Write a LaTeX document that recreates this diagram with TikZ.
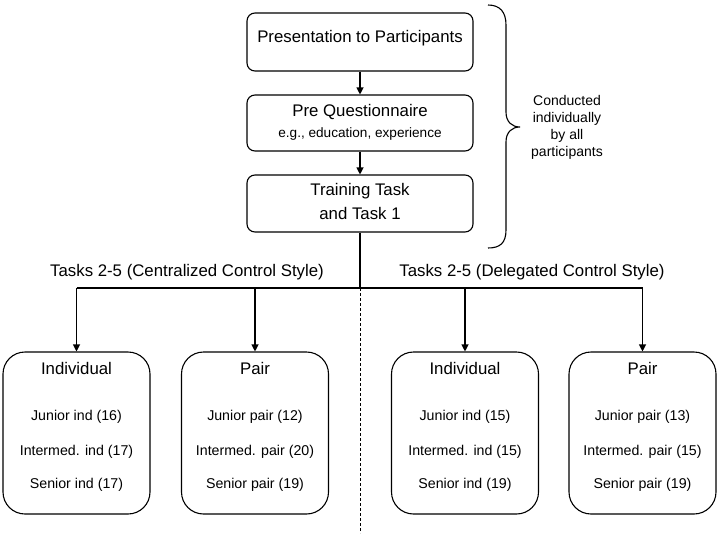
\documentclass[tikz,border=0pt]{standalone}
\usepackage{fontspec}
\setmainfont{Liberation Sans}
\usetikzlibrary{arrows.meta}
\begin{document}
\begin{tikzpicture}[x=1pt,y=-1pt,
  topbox/.style={draw, line width=1.1pt, rounded corners=8pt, minimum width=226pt, inner sep=0pt},
  botbox/.style={draw, line width=1.1pt, rounded corners=22pt, minimum width=147pt, minimum height=162pt, inner sep=0pt},
  big/.style={font=\fontsize{16.8}{19}\selectfont, inner sep=0pt},
  small/.style={font=\fontsize{13.6}{16}\selectfont, inner sep=0pt},
  item/.style={font=\fontsize{14.2}{16}\selectfont, inner sep=0pt},
  conn/.style={line width=1.1pt},
  arr/.style={line width=1.1pt, -{Triangle[length=7pt,width=7pt]}}]
\useasboundingbox (0,0) rectangle (720,536);
% top boxes
\node[topbox, minimum height=58pt] (b1) at (360,42) {};
\node[big] (t1) at (360,38) {Presentation to Participants};
\node[topbox, minimum height=56pt] (b2) at (360,123) {};
\node[big] (t2a) at (360,112) {Pre Questionnaire};
\node[small] (t2b) at (360,134) {e.g., education, experience};
\node[topbox, minimum height=57pt] (b3) at (360,203.5) {};
\node[big] (t3a) at (360,191) {Training Task};
\node[big] (t3b) at (360,213) {and Task 1};
\draw[arr] (b1) -- (b2);
\draw[arr] (b2) -- (b3);
% brace
\draw[line width=1.1pt] (488,5) .. controls (500,5) and (506,12) .. (506,25) -- (506,112)
  .. controls (506,122) and (512,127) .. (520,127)
  .. controls (512,127) and (506,132) .. (506,142) -- (506,230)
  .. controls (506,243) and (500,248) .. (488,248);
\node[item, align=center, font=\fontsize{14}{17}\selectfont] (brace) at (567,127.5) {Conducted\\individually\\by all\\participants};
% junction
\coordinate (j) at (360,288);
\coordinate (cL) at (76.5,288);
\coordinate (cL2) at (255,288);
\coordinate (cR1) at (465,288);
\coordinate (cR) at (642.5,288);
\coordinate (dend) at (360,533);
\draw[conn] (b3) -- (j);
\draw[conn] (cL) -- (cR);
\draw[conn, dash pattern=on 3pt off 2pt, line width=0.9pt] (j) -- (dend);
\node[big] (lt) at (187,272) {Tasks 2-5 (Centralized Control Style)};
\node[big] (rt) at (532,272) {Tasks 2-5 (Delegated Control Style)};
% bottom boxes
\node[botbox] (L1) at (76.5,433) {};
\node[botbox] (L2) at (255,433) {};
\node[botbox] (R1) at (465,433) {};
\node[botbox] (R2) at (642.5,433) {};
\draw[arr] (cL) -- (L1);
\draw[arr] (cL2) -- (L2);
\draw[arr] (cR1) -- (R1);
\draw[arr] (cR) -- (R2);
% texts
\node[big] (L1t) at (76.5,368) {Individual};
\node[item] (L1a) at (76.5,417) {Junior ind (16)};
\node[item] (L1b) at (76.5,452) {Intermed. ind (17)};
\node[item] (L1c) at (76.5,485) {Senior ind (17)};
\node[big] (L2t) at (255,368) {Pair};
\node[item] (L2a) at (255,417) {Junior pair (12)};
\node[item] (L2b) at (255,452) {Intermed. pair (20)};
\node[item] (L2c) at (255,485) {Senior pair (19)};
\node[big] (R1t) at (465,368) {Individual};
\node[item] (R1a) at (465,417) {Junior ind (15)};
\node[item] (R1b) at (465,452) {Intermed. ind (15)};
\node[item] (R1c) at (465,485) {Senior ind (19)};
\node[big] (R2t) at (642.5,368) {Pair};
\node[item] (R2a) at (642.5,417) {Junior pair (13)};
\node[item] (R2b) at (642.5,452) {Intermed. pair (15)};
\node[item] (R2c) at (642.5,485) {Senior pair (19)};
\end{tikzpicture}
\end{document}
